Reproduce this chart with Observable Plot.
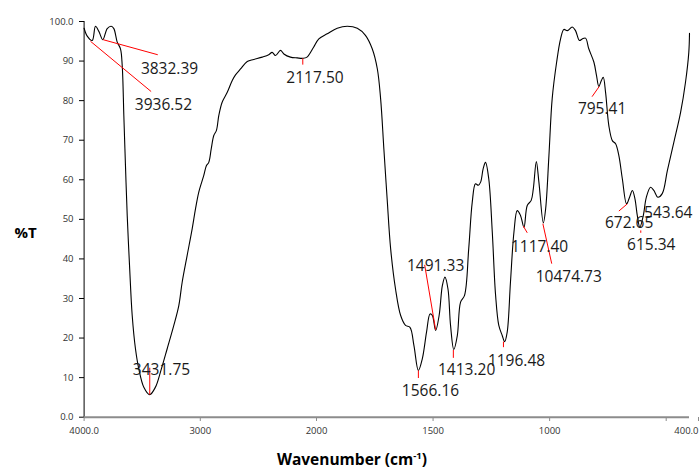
<!DOCTYPE html>
<html><head><meta charset="utf-8">
<script src="https://cdn.jsdelivr.net/npm/d3@7"></script>
<script src="https://cdn.jsdelivr.net/npm/@observablehq/plot@0.6"></script>
<style>body{margin:0;background:#fff}</style>
</head><body><div id="chart"></div>
<script>
const wavenumber = [4000,3973,3930,3902,3873,3839,3801,3767,3744,3715,3687,3672,3658,3644,3629,3609,3586,3558,3529,3486,3435,3386,3343,3285,3228,3185,3156,3113,3070,3041,3013,2970,2947,2927,2906,2884,2861,2841,2812,2768,2725,2697,2654,2596,2540,2467,2411,2382,2353,2310,2281,2224,2166,2118,2082,2025,1990,1954,1911,1868,1825,1790,1761,1739,1725,1711,1697,1682,1661,1639,1618,1599,1582,1563,1546,1528,1513,1503,1489,1474,1460,1449,1436,1425,1411,1396,1382,1365,1347,1332,1318,1306,1296,1285,1275,1261,1246,1232,1218,1203,1193,1182,1168,1153,1139,1125,1110,1096,1079,1070,1057,1046,1027,1017,1003,989,970,953,939,924,903,889,872,860,846,832,810,799,789,778,770,760,746,731,717,703,688,670,657,645,634,624,613,598,585,567,553,536,517,495,467,438,417,403,400];
const transmittance = [98.3,96.3,95.2,98.8,97.5,95.4,98.2,98.8,98.2,94.8,93.1,88.9,76.2,63.6,51.0,38.3,25.7,17.3,12.2,7.6,5.7,7.6,11.4,17.3,23.2,28.2,34.1,40.9,47.6,52.7,56.9,61.1,63.6,64.4,67.8,71.2,72.5,76.2,79.6,82.1,85.1,86.5,88.0,89.9,90.4,91.0,91.6,92.2,91.4,92.7,91.8,91.0,90.8,90.7,91.0,93.5,95.6,96.9,98.3,98.8,98.3,96.5,93.1,88.0,80.5,67.8,55.2,42.6,32.4,25.7,23.2,22.7,18.1,11.8,14.8,21.5,26.1,25.7,21.9,25.7,33.3,35.4,32.4,23.2,17.1,20.6,29.1,30.8,42.6,54.3,59.0,58.6,59.4,62.8,64.4,60.2,46.8,31.0,23.2,20.6,19.1,21.5,34.1,46.8,52.2,51.0,48.0,53.5,54.8,57.7,64.6,59.4,49.1,52.7,66.1,80.5,89.7,95.6,98.0,97.7,98.6,97.7,95.2,95.6,95.8,93.1,89.7,86.4,83.6,85.1,85.9,82.1,73.7,69.9,69.1,66.1,60.2,53.9,55.6,57.3,55.2,51.0,48.0,51.0,55.6,58.1,57.3,55.6,56.5,62.3,69.5,77.1,84.7,92.2,97.0];

const peakLabels = ["3832.39","3936.52","2117.50","3431.75","1491.33","1566.16","1413.20","1196.48","1117.40","10474.73","795.41","672.65","615.34","543.64"];
const labelX = [3265,3317,2013,3334,1489,1511,1356,1142,1043,918,775,659,564,491];
const labelY = [88.1,79.0,85.6,11.8,38.3,6.5,12.0,14.3,42.9,35.5,77.8,49.0,43.4,51.7];

const leaderX1 = [3836,3945,2118,3435,1536,1563,1413,1198,1113,1029,787,667,609];
const leaderY1 = [95.4,95.0,90.7,12.5,38.5,11.8,17.0,19.1,48.3,48.9,83.6,53.9,47.2];
const leaderX2 = [3366,3423,2118,3435,1489,1563,1413,1198,1096,991,818,703,609];
const leaderY2 = [91.6,82.3,89.1,5.7,22.1,9.9,15.0,17.7,46.6,38.8,81.0,52.1,46.6];

const xTicks = [4000,3000,2000,1500,1000,500,400];
const xTickLabels = ["4000.0","3000","2000","1500","1000","","400.0"];
const yTicks = [0,10,20,30,40,50,60,70,80,90,100];
const yTickLabels = ["0.0","10","20","30","40","50","60","70","80","90","100.0"];

const spectrum = wavenumber.map((w, i) => ({w, t: transmittance[i]}));
const labels = peakLabels.map((s, i) => ({s, x: labelX[i], y: labelY[i]}));
const leaders = leaderX1.map((x1, i) => ({x1, y1: leaderY1[i], x2: leaderX2[i], y2: leaderY2[i]}));

const lastTick = xTicks[xTicks.length - 1];
const fmtX = d => xTickLabels[xTicks.indexOf(d)];

const chart = Plot.plot({
  width: 699, height: 469,
  marginTop: 21, marginBottom: 52, marginLeft: 84, marginRight: 10,
  style: {fontFamily: "Open Sans", background: "#fff"},
  x: {type: "linear", domain: [4000, 2000, 400], range: [83.6, 316, 689]},
  y: {domain: [0, 100], range: [416.7, 21]},
  marks: [
    Plot.axisY({ticks: yTicks, tickFormat: d => yTickLabels[yTicks.indexOf(d)], tickSize: 5, tickPadding: 6, fontSize: 9.5, stroke: "#000", fill: "#333", label: null}),
    Plot.axisX({ticks: xTicks.slice(0, -1), tickFormat: fmtX, tickSize: 4, tickPadding: 6, fontSize: 9.5, stroke: "#8c8c8c", fill: "#333", label: null}),
    Plot.axisX({ticks: [lastTick], tickFormat: fmtX, tickSize: 4, tickPadding: 6, fontSize: 9.5, stroke: "#8c8c8c", fill: "#333", label: null, textAnchor: "end", dx: 9}),
    Plot.ruleX([4000], {stroke: "#000", strokeWidth: 1}),
    Plot.ruleY([0], {stroke: "#8c8c8c", strokeWidth: 2}),
    Plot.line(spectrum, {x: "w", y: "t", stroke: "#000", strokeWidth: 1.1, curve: "catmull-rom"}),
    Plot.link(leaders, {x1: "x1", y1: "y1", x2: "x2", y2: "y2", stroke: "#ff0000", strokeWidth: 1}),
    Plot.text(labels, {x: "x", y: "y", text: "s", fontSize: 15.5, fill: "#1a1a1a"}),
    Plot.text(["%T"], {frameAnchor: "left", dx: -70, dy: 14, fontWeight: "bold", fontSize: 15, fill: "#000"})
  ]
});
document.getElementById("chart").appendChild(chart);

const svg = d3.select(chart);
const t = svg.append("text")
  .attr("x", 352).attr("y", 465)
  .attr("text-anchor", "middle")
  .attr("font-family", "Open Sans")
  .attr("font-weight", "bold")
  .attr("font-size", 15.5)
  .attr("fill", "#000")
  .text("Wavenumber (cm");
t.append("tspan").attr("dy", -6).attr("font-size", 9.5).text("-1");
t.append("tspan").attr("dy", 6).text(")");
</script>
</body></html>
